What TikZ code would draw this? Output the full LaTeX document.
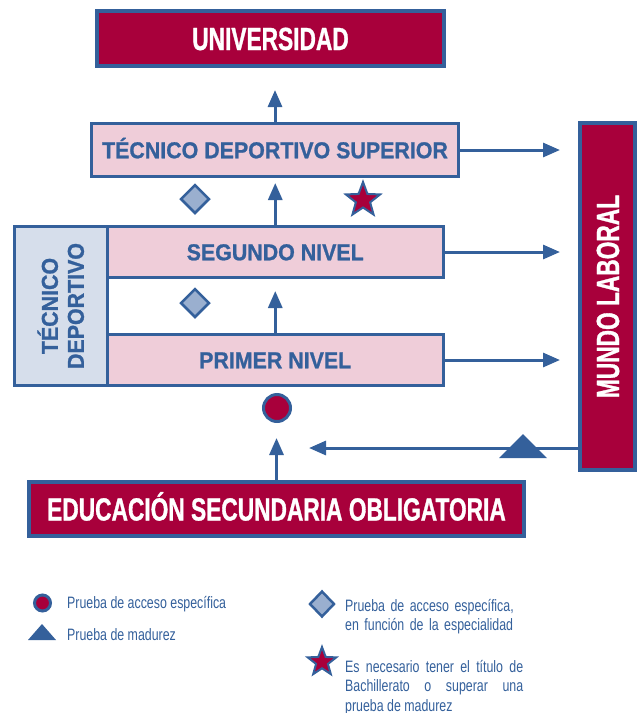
\documentclass[tikz,border=0pt]{standalone}
\usepackage{fontspec}
\setmainfont{Liberation Sans}
\newfontfamily\titlefont[FakeStretch=0.71,FakeBold=1]{Liberation Sans Bold}
\newfontfamily\boxfont[FakeStretch=0.93,FakeBold=1]{Liberation Sans Bold}
\newfontfamily\legfont[FakeStretch=0.75]{Liberation Sans}
\usepackage{tikz}
\usetikzlibrary{shapes.geometric,arrows.meta}
\usepackage{xcolor}
\definecolor{uniRed}{HTML}{A8003B}
\definecolor{lineBlue}{HTML}{34609B}
\definecolor{boxPink}{HTML}{EFCDD9}
\definecolor{sideGray}{HTML}{D6DEEB}
\definecolor{markBlue}{HTML}{9AAFCF}
\hyphenpenalty=10000
\hbadness=10000
\hfuzz=20pt

\begin{document}
\begin{tikzpicture}[x=1pt,y=-1pt,>={Triangle[length=17pt,width=14pt]},
  titlebox/.style={draw=lineBlue,line width=4pt,fill=uniRed,text=white,inner sep=0pt,
    font=\titlefont\fontsize{32}{34}\selectfont,text height=23pt,text depth=0pt},
  levelbox/.style={draw=lineBlue,line width=3pt,fill=boxPink,text=lineBlue,inner sep=0pt,
    font=\boxfont\fontsize{23}{26}\selectfont,text height=16.5pt,text depth=0pt},
  sidebox/.style={draw=lineBlue,line width=3pt,fill=sideGray,text=lineBlue,inner sep=0pt,
    font=\boxfont\fontsize{23}{26}\selectfont,align=center},
  link/.style={->,draw=lineBlue,line width=3pt},
  legtext/.style={text=lineBlue,font=\legfont\fontsize{16.5}{19.5}\selectfont,inner sep=0pt,anchor=base west},
  circmark/.style={circle,draw=lineBlue,line width=3pt,fill=uniRed,inner sep=0pt},
  diamark/.style={diamond,draw=lineBlue,line width=2.5pt,fill=markBlue,inner sep=0pt},
  starmark/.style={star,star points=5,star point ratio=2.4,draw=lineBlue,line width=2pt,fill=uniRed,inner sep=0pt}]
  \useasboundingbox (0,0) rectangle (641,713);

  % boxes
  \node[titlebox,minimum width=347pt,minimum height=55pt] (uni) at (270.5,38.5) {UNIVERSIDAD};
  \node[levelbox,minimum width=367pt,minimum height=53pt] (tds) at (275,150) {TÉCNICO DEPORTIVO SUPERIOR};
  \node[sidebox,rotate=90,minimum width=159pt,minimum height=92.5pt] (side) at (60.75,306) {TÉCNICO\\DEPORTIVO};
  \node[levelbox,minimum width=336.5pt,minimum height=51pt] (seg) at (275.25,252) {SEGUNDO NIVEL};
  \node[levelbox,minimum width=336.5pt,minimum height=51pt] (pri) at (275.25,360) {PRIMER NIVEL};
  \node[titlebox,rotate=90,minimum width=347pt,minimum height=55pt] (mundo) at (607.5,296.5) {MUNDO LABORAL};
  \node[titlebox,minimum width=495pt,minimum height=54pt] (eso) at (276.5,509) {EDUCACIÓN SECUNDARIA OBLIGATORIA};

  % marks
  \node[diamark,minimum width=29pt,minimum height=29pt] (dia1) at (195,199) {};
  \node[starmark,minimum size=36pt] (bach) at (363,200) {};
  \node[diamark,minimum width=29pt,minimum height=29pt] (dia2) at (195,303) {};
  \node[circmark,minimum size=27pt] (acc) at (277,408) {};
  \coordinate (back) at (523,448);

  % arrows
  \draw[link,shorten >=22pt] (tds.north) -- (tds.north |- uni.south);
  \draw[link,shorten >=5pt] (seg.north) -- (seg.north |- tds.south);
  \draw[link,shorten >=12pt] (pri.north) -- (pri.north |- seg.south);
  \draw[link,shorten >=18pt] (tds.east) -- (tds.east -| mundo.north);
  \draw[link,shorten >=18pt] (seg.east) -- (seg.east -| mundo.north);
  \draw[link,shorten >=18pt] (pri.east) -- (pri.east -| mundo.north);
  \draw[link,shorten >=15pt] (eso.north) -- (eso.north |- acc.south);
  \draw[link,shorten >=17pt] (mundo.north |- back) -- (acc.east |- back);
  \fill[lineBlue] (499,458) -- (523,434) -- (547,458) -- cycle;

  % legend
  \node[circmark,minimum size=16pt] (legacc) at (42.5,603) {};
  \node[legtext] (legacct) at (67,608) {Prueba de acceso específica};
  \fill[lineBlue] (28,640) -- (42,624) -- (56,640) -- cycle;
  \node[legtext] (legmadt) at (67,640) {Prueba de madurez};
  \node[diamark,minimum width=25pt,minimum height=26pt] (legdia) at (322,604) {};
  \node[legtext,text width=190pt,align=left] (legdiat) at (345,611) {Prueba de acceso específica,\\en función de la especialidad};
  \node[starmark,minimum size=30pt] (legbach) at (322,662) {};
  \node[legtext,text width=178pt,align=justify] (legbacht) at (345,672) {Es necesario tener el título de\linebreak Bachillerato o superar una\linebreak prueba de madurez};
\end{tikzpicture}
\end{document}
